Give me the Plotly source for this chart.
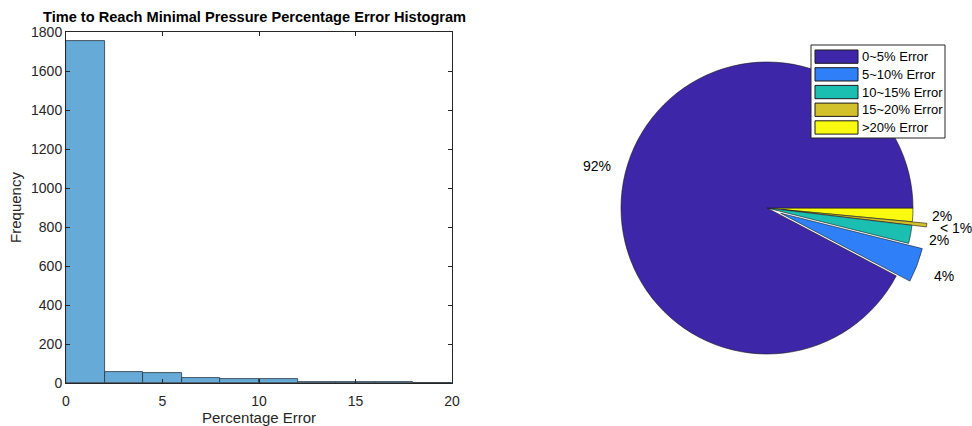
import math
import plotly.graph_objects as go

# Histogram of percentage error (bin edges and counts per bin)
bin_edges = [0, 2, 4, 6, 8, 10, 12, 14, 16, 18, 20]
bin_counts = [1755, 55, 50, 26, 21, 19, 5, 4, 3, 1]

# Pie chart: share of runs in each error band (percent)
categories = ["0~5% Error", "5~10% Error", "10~15% Error", "15~20% Error", ">20% Error"]
shares = [92.3, 3.8, 2.0, 0.4, 1.5]
exploded = [0, 1, 0, 1, 0]
slice_colors = ["#3d26a8", "#2f80f8", "#1bbfb2", "#d3c12b", "#f9fa10"]

x_ticks = [0, 5, 10, 15, 20]
y_ticks = list(range(0, 1801, 200))

W, H = 972, 426
TXT = "#262626"
FONT = "Liberation Sans, Arial, Helvetica, sans-serif"
PULL = 0.1


def px_x(p):
    return p / W


def px_y(p):
    return 1 - p / H


centers = [(a + b) / 2 for a, b in zip(bin_edges[:-1], bin_edges[1:])]
widths = [b - a for a, b in zip(bin_edges[:-1], bin_edges[1:])]

pct_labels = ["< 1%" if s < 1 else f"{round(s)}%" for s in shares]

fig = go.Figure()

fig.add_trace(go.Bar(
    x=centers, y=bin_counts, width=widths,
    marker=dict(color="#66aad7", line=dict(color="#2a3540", width=0.8)),
    showlegend=False, hoverinfo="x+y",
))

# pie occupies a square region on the right; pull mimics exploded slices.
# Slices are fed in reverse and drawn clockwise from 3 o'clock, so the first
# band sweeps counterclockwise from the horizontal.
pie_cx, pie_cy, pie_r = 767, 208, 146
half = pie_r * (1 + PULL)
fig.add_trace(go.Pie(
    labels=categories[::-1], values=shares[::-1], sort=False,
    direction="clockwise", rotation=90,
    pull=[PULL * e for e in exploded[::-1]],
    marker=dict(colors=slice_colors[::-1], line=dict(color="#1a1a1a", width=0.6)),
    textinfo="none", textposition="none",
    domain=dict(x=[px_x(pie_cx - half), px_x(pie_cx + half)],
                y=[px_y(pie_cy + half), px_y(pie_cy - half)]),
    showlegend=False,
))

# percentage labels centred at 1.2 radii along each slice's mid-angle
total = sum(shares)
start = 0.0
for s, lab, e in zip(shares, pct_labels, exploded):
    sweep = 360 * s / total
    mid = math.radians(start + sweep / 2)
    start += sweep
    ox = PULL * pie_r * e * math.cos(mid)
    oy = PULL * pie_r * e * math.sin(mid)
    lx = pie_cx + ox + 1.2 * pie_r * math.cos(mid)
    ly = pie_cy - oy - 1.2 * pie_r * math.sin(mid)
    fig.add_annotation(xref="paper", yref="paper", x=px_x(lx), y=px_y(ly),
                       text=lab, showarrow=False, xanchor="center", yanchor="middle",
                       font=dict(family=FONT, size=14, color="#000000"))

axis_common = dict(
    showline=True, linecolor=TXT, linewidth=1, mirror="allticks",
    ticks="inside", ticklen=4, tickcolor=TXT, showgrid=False, zeroline=False,
    tickfont=dict(family=FONT, size=14, color=TXT), automargin=False,
)

fig.update_layout(
    width=W, height=H,
    margin=dict(l=0, r=0, t=0, b=0, pad=0),
    paper_bgcolor="white", plot_bgcolor="white",
    bargap=0,
    xaxis=dict(domain=[px_x(66), px_x(452)], range=[0, 20], tickvals=x_ticks,
               ticklabelstandoff=5,
               title=dict(text="Percentage Error", standoff=6,
                          font=dict(family=FONT, size=15, color=TXT)),
               **axis_common),
    yaxis=dict(domain=[px_y(383), px_y(32)], range=[0, 1800], tickvals=y_ticks,
               title=dict(text="Frequency", standoff=5,
                          font=dict(family=FONT, size=15, color=TXT)),
               **axis_common),
    title=dict(text="<b>Time to Reach Minimal Pressure Percentage Error Histogram</b>",
               xref="container", x=px_x(43), xanchor="left",
               yref="container", y=px_y(17), yanchor="middle",
               font=dict(family=FONT, size=14.6, color="#000000")),
)

# legend box for the pie, built from the categories and colours
leg_x0, leg_x1, leg_y0, leg_y1 = 811, 945, 45, 138
fig.add_shape(type="rect", xref="paper", yref="paper",
              x0=px_x(leg_x0), x1=px_x(leg_x1), y0=px_y(leg_y1), y1=px_y(leg_y0),
              line=dict(color="#262626", width=1), fillcolor="white")
for i, (name, col) in enumerate(zip(categories, slice_colors)):
    top = 50 + i * 17.7
    fig.add_shape(type="rect", xref="paper", yref="paper",
                  x0=px_x(815), x1=px_x(858), y0=px_y(top + 13.3), y1=px_y(top),
                  line=dict(color="#1a1a1a", width=1), fillcolor=col)
    fig.add_annotation(xref="paper", yref="paper", x=px_x(860), y=px_y(top + 6.7),
                       text=name, showarrow=False, xanchor="left", yanchor="middle",
                       font=dict(family=FONT, size=13, color="#000000"))

fig.write_html("out.html")
